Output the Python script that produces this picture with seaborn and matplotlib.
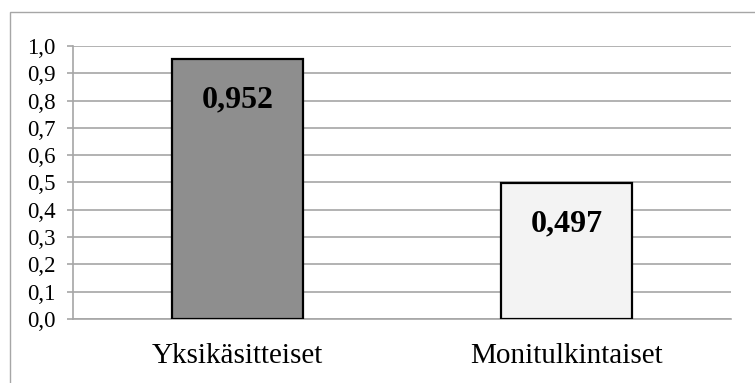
import matplotlib
matplotlib.use("Agg")
import matplotlib.pyplot as plt
from matplotlib.ticker import FuncFormatter, MultipleLocator
from matplotlib.patches import Rectangle
import seaborn as sns
import pandas as pd

# Data
categories = ["Yksikäsitteiset", "Monitulkintaiset"]
values = [0.952, 0.497]
labels = ["0,952", "0,497"]
bar_colors = ["#8e8e8e", "#f3f3f3"]

sns.set_theme(style="white")
plt.rcParams["font.family"] = ["Liberation Serif", "DejaVu Serif"]

df = pd.DataFrame({"category": categories, "value": values})

fig = plt.figure(figsize=(7.55, 3.83), dpi=100)
ax = fig.add_axes([73 / 755, 1 - 319 / 383, (731 - 73) / 755, (319 - 46) / 383])

sns.barplot(data=df, x="category", y="value", hue="category",
            palette=bar_colors, legend=False, width=0.4,
            edgecolor="black", linewidth=1.6, ax=ax, zorder=3)

ax.set_ylim(0, 1.0)
ax.yaxis.set_major_locator(MultipleLocator(0.1))
ax.yaxis.set_major_formatter(FuncFormatter(lambda v, _: f"{v:.1f}".replace(".", ",")))
ax.grid(axis="y", color="#a6a6a6", linewidth=1.2, zorder=0)
ax.set_axisbelow(True)

for side in ["top", "right"]:
    ax.spines[side].set_visible(False)
for side in ["left", "bottom"]:
    ax.spines[side].set_color("#a6a6a6")
    ax.spines[side].set_linewidth(1.2)

ax.tick_params(axis="y", which="major", left=True, length=4.5, width=1.2,
               color="#a6a6a6", pad=8, labelsize=16.5, labelcolor="black")
ax.tick_params(axis="x", length=0, pad=17, labelsize=21, labelcolor="black")
ax.set_xlabel("")
ax.set_ylabel("")

# Value labels inside bars, near the top
for i, (v, lab) in enumerate(zip(values, labels)):
    ax.annotate(lab, xy=(i, v), xytext=(0, -34.8), textcoords="offset points",
                ha="center", va="baseline", fontsize=23, fontweight="bold",
                color="black", zorder=5)

# Outer chart frame
fig.patches.append(Rectangle((10 / 755, -0.1), 1.2, 1.1 - 12 / 383,
                             transform=fig.transFigure, fill=False,
                             edgecolor="#a6a6a6", linewidth=1.0))

fig.savefig("out.png", dpi=100, facecolor="white")
